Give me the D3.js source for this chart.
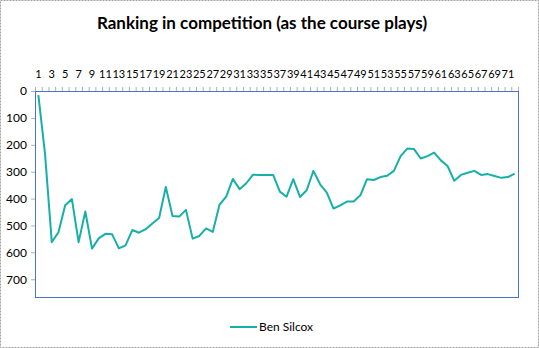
<!DOCTYPE html>
<html>
<head>
<meta charset="utf-8">
<script src="https://cdn.jsdelivr.net/npm/d3@7"></script>
<style>
  body { margin: 0; background: #fff; }
  text { font-family: Lato, "Open Sans", sans-serif; fill: #000; }
</style>
</head>
<body>
<div id="chart"></div>
<script>
// data
const seriesName = "Ben Silcox";
const holes = d3.range(1, 73);
const ranking = [
  15, 235, 562, 525, 425, 402, 562, 448, 586, 548,
  531, 533, 585, 574, 517, 527, 514, 493, 472, 357,
  465, 467, 442, 549, 539, 511, 524, 423, 393, 327,
  365, 343, 311, 312, 312, 312, 374, 393, 328, 394,
  369, 297, 347, 378, 437, 425, 411, 411, 388, 328,
  331, 320, 315, 297, 242, 214, 216, 251, 242, 229,
  258, 279, 334, 312, 304, 297, 312, 309, 316, 323,
  320, 307
];
const yTicks = [0, 100, 200, 300, 400, 500, 600, 700];
const yMax = 766;

const W = 539, H = 348;
const plot = {left: 35, right: 518, top: 91, bottom: 297};

const svg = d3.select("#chart").append("svg")
  .attr("width", W)
  .attr("height", H);

// outer chart border
svg.append("rect")
  .attr("x", 0.5).attr("y", 0.5)
  .attr("width", W - 1).attr("height", H - 1)
  .attr("fill", "#fff")
  .attr("stroke", "#a0a0a0")
  .attr("stroke-dasharray", "2,1");

svg.append("text")
  .attr("x", 262)
  .attr("y", 29)
  .attr("text-anchor", "middle")
  .style("font-size", "17px")
  .style("font-weight", "bold")
  .text("Ranking in competition (as the course plays)");

const x = d3.scaleBand()
  .domain(holes)
  .range([plot.left, plot.right]);

const y = d3.scaleLinear()
  .domain([0, yMax])
  .range([plot.top, plot.bottom]);

// top category axis, labels on every other hole
const xAxis = d3.axisTop(x)
  .tickValues(holes.filter(d => d % 2 === 1))
  .tickSize(0)
  .tickPadding(13);

const gx = svg.append("g")
  .attr("transform", `translate(0,${plot.top})`)
  .call(xAxis);
gx.select(".domain").remove();
gx.selectAll("text").style("font-size", "11px").attr("font-family", null);

// small tick marks between categories
svg.append("g")
  .selectAll("line")
  .data(holes.concat([73]))
  .join("line")
  .attr("x1", d => plot.left + (d - 1) * x.step() + 0.5)
  .attr("x2", d => plot.left + (d - 1) * x.step() + 0.5)
  .attr("y1", plot.top - 4)
  .attr("y2", plot.top)
  .attr("stroke", "#b0b0b0");

const yAxis = d3.axisLeft(y)
  .tickValues(yTicks)
  .tickSize(4)
  .tickPadding(4);

const gy = svg.append("g")
  .attr("transform", `translate(${plot.left},0)`)
  .call(yAxis);
gy.select(".domain").remove();
gy.selectAll("line").attr("stroke", "#b0b0b0");
gy.selectAll("text").style("font-size", "12px").attr("font-family", null);

// plot area border
svg.append("rect")
  .attr("x", plot.left + 0.5)
  .attr("y", plot.top + 0.5)
  .attr("width", plot.right - plot.left)
  .attr("height", plot.bottom - plot.top)
  .attr("fill", "none")
  .attr("stroke", "#4a72d0")
  .attr("stroke-width", 1);

const line = d3.line()
  .x((d, i) => x(holes[i]) + x.bandwidth() / 2)
  .y(d => y(d));

svg.append("path")
  .datum(ranking)
  .attr("fill", "none")
  .attr("stroke", "#17b0a8")
  .attr("stroke-width", 2)
  .attr("stroke-linejoin", "round")
  .attr("d", line);

// legend
const legend = svg.append("g").attr("transform", "translate(230,327)");
legend.append("line")
  .attr("x1", 0).attr("x2", 27)
  .attr("y1", 0).attr("y2", 0)
  .attr("stroke", "#17b0a8")
  .attr("stroke-width", 2);
legend.append("text")
  .attr("x", 29)
  .attr("y", 4)
  .style("font-size", "12px")
  .text(seriesName);
</script>
</body>
</html>
